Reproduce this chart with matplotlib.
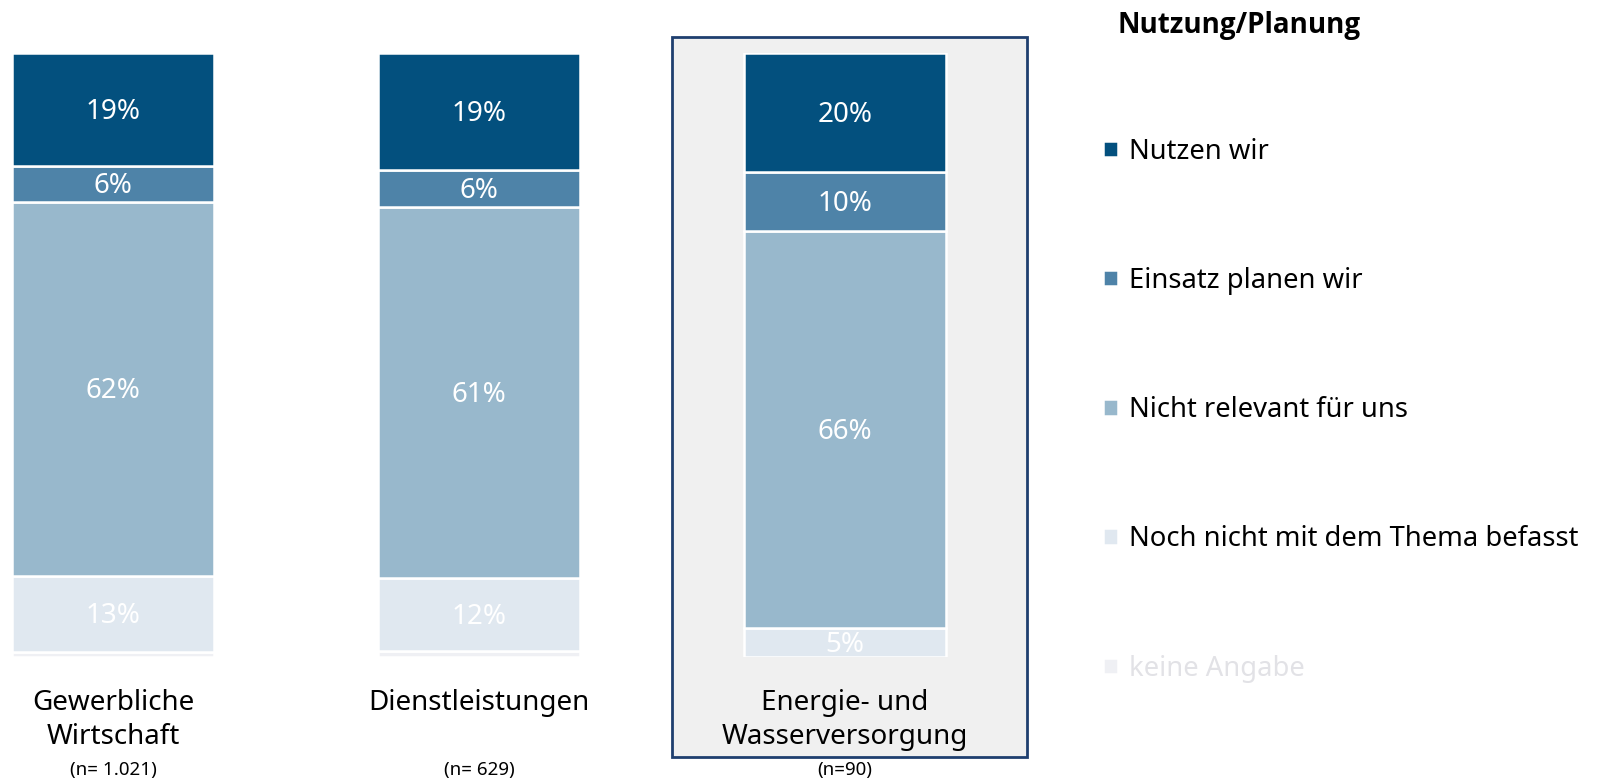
import numpy as np
import matplotlib
matplotlib.use("Agg")
import matplotlib.pyplot as plt
from matplotlib.patches import Rectangle

plt.rcParams['font.family'] = ['Noto Sans', 'DejaVu Sans']

# data (shares in %)
categories = ["Gewerbliche\nWirtschaft", "Dienstleistungen", "Energie- und\nWasserversorgung"]
sample_sizes = ["(n= 1.021)", "(n= 629)", "(n=90)"]
series_names = ["keine Angabe", "Noch nicht mit dem Thema befasst", "Nicht relevant für uns",
                "Einsatz planen wir", "Nutzen wir"]
keine_angabe = [0.9, 1.0, 0.0]
noch_nicht = [12.6, 12.2, 4.9]
nicht_relevant = [61.9, 61.3, 65.6]
einsatz_planen = [5.9, 6.1, 9.8]
nutzen = [18.7, 19.4, 19.7]

colors = ["#eff0f4", "#e0e8f0", "#98b8cc", "#4e83a8", "#03507e"]
label_colors = ["#e2e2e6", "black", "black", "black", "black"]

fig = plt.figure(figsize=(16.08, 7.83), dpi=100)
ax = fig.add_axes([0, 0.1604, 1, 0.7716])
ax.set_facecolor("none")
ax.set_zorder(2)

# highlighted group background
fig.patches.append(Rectangle((672 / 1608, 1 - 757 / 783), 355 / 1608, 720 / 783,
                             transform=fig.transFigure, facecolor="#f0f0f0",
                             edgecolor="#1f3f6f", linewidth=2, zorder=-1))

x = np.arange(len(categories))
width = 0.55
stack = [keine_angabe, noch_nicht, nicht_relevant, einsatz_planen, nutzen]
bottom = np.zeros(len(categories))
handles = []
for i, vals in enumerate(stack):
    vals = np.array(vals)
    b = ax.bar(x, vals, width, bottom=bottom, color=colors[i], edgecolor="white",
               linewidth=1.8, label=series_names[i], zorder=2)
    handles.append(b)
    if i > 0:
        for xi, v, bt in zip(x, vals, bottom):
            if v > 0:
                ax.text(xi, bt + v / 2 - 0.4, f"{v:.0f}%", ha="center", va="center",
                        color="white", fontsize=20, zorder=3)
    bottom += vals

ax.set_xlim(-113 / 366, (1608 - 113) / 366)
ax.set_ylim(0, 100)
ax.axis("off")

trans = ax.get_xaxis_transform()
for xi, cat, n in zip(x, categories, sample_sizes):
    ax.text(xi, -0.052, cat, ha="center", va="top", fontsize=20,
            linespacing=1.3, transform=trans)
    ax.text(xi, -0.186, n, ha="center", va="center", fontsize=13.5, transform=trans)

# legend
fig.text(1118 / 1608, 1 - 26 / 783, "Nutzung/Planung", fontsize=20, fontweight="bold",
         family=["Open Sans", "DejaVu Sans"], ha="left", va="center")
leg = fig.legend(handles[::-1], series_names[::-1], loc="upper left",
                 bbox_to_anchor=(1078 / 1608, 1 - 113 / 783), frameon=False,
                 fontsize=19.7, handlelength=0.55, handleheight=0.55, handletextpad=0.4,
                 labelspacing=3.7)
for t, c in zip(leg.get_texts(), label_colors[::-1]):
    t.set_color(c)

fig.savefig("out.png", dpi=100)
